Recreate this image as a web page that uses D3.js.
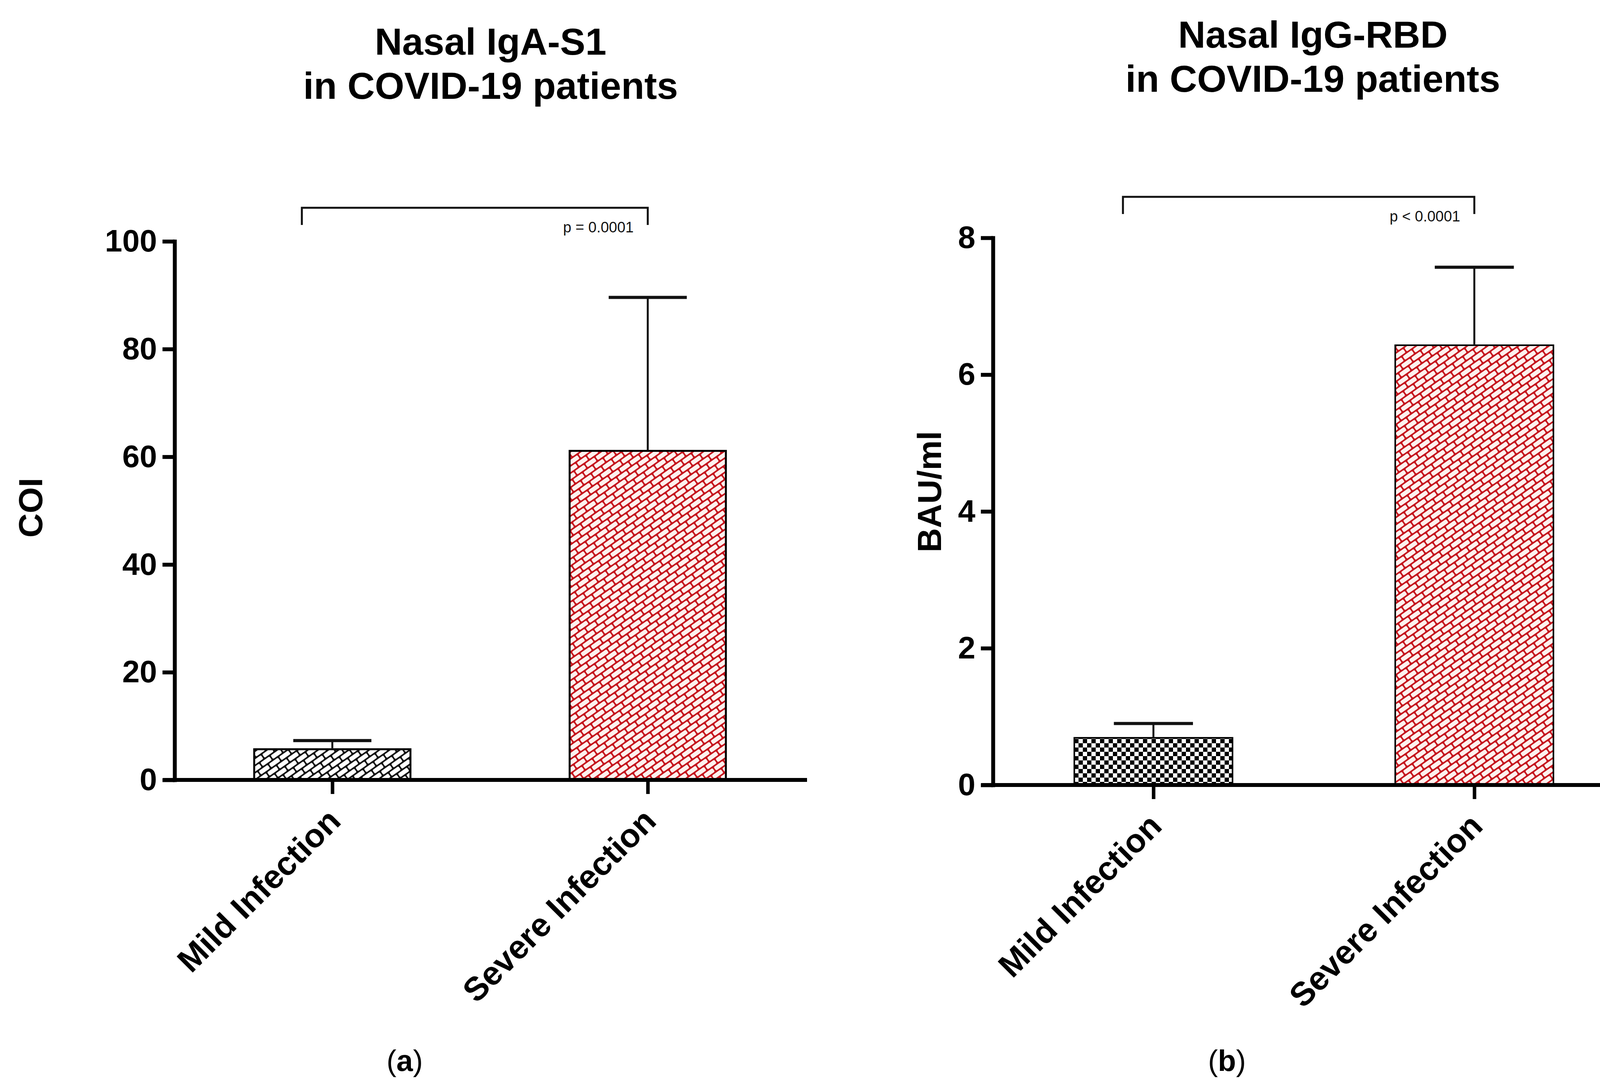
<!DOCTYPE html>
<html>
<head>
<meta charset="utf-8">
<script src="https://cdn.jsdelivr.net/npm/d3@7"></script>
<style>
  body { margin: 0; background: #fff; }
  text { font-family: "Liberation Sans", Arial, sans-serif; }
</style>
</head>
<body>
<div id="chart"></div>
<script>
// data
const categories = ["Mild Infection", "Severe Infection"];

const igaMean = [5.7, 61.1];
const igaErr = [1.6, 28.5];
const igaTicks = [0, 20, 40, 60, 80, 100];

const iggMean = [0.69, 6.43];
const iggErr = [0.21, 1.14];
const iggTicks = [0, 2, 4, 6, 8];

const titlesA = ["Nasal IgA-S1", "in COVID-19 patients"];
const titlesB = ["Nasal IgG-RBD", "in COVID-19 patients"];
const pTexts = ["p = 0.0001", "p < 0.0001"];

const W = 4218, H = 2773;

const svg = d3.select("#chart").append("svg")
    .attr("width", W)
    .attr("height", H)
    .attr("viewBox", `0 0 ${W} ${H}`);

svg.append("rect").attr("width", W).attr("height", H).attr("fill", "#fff");

// fill patterns
const defs = svg.append("defs");

function brick(id, mortar, face) {
  const p = defs.append("pattern")
      .attr("id", id)
      .attr("patternUnits", "userSpaceOnUse")
      .attr("width", 32).attr("height", 30)
      .attr("patternTransform", "rotate(-35)");
  p.append("rect").attr("width", 32).attr("height", 30).attr("fill", mortar);
  p.append("rect").attr("x", 2).attr("y", 2).attr("width", 28).attr("height", 11)
      .attr("rx", 3).attr("fill", face);
  p.append("rect").attr("x", -14).attr("y", 17).attr("width", 28).attr("height", 11)
      .attr("rx", 3).attr("fill", face);
  p.append("rect").attr("x", 18).attr("y", 17).attr("width", 28).attr("height", 11)
      .attr("rx", 3).attr("fill", face);
}
brick("brickBlack", "#111", "#fff");
brick("brickRed", "#c4141c", "#fdf1ee");

const chk = defs.append("pattern")
    .attr("id", "checker")
    .attr("patternUnits", "userSpaceOnUse")
    .attr("width", 22).attr("height", 22);
chk.append("rect").attr("width", 22).attr("height", 22).attr("fill", "#fff");
chk.append("rect").attr("width", 11).attr("height", 11).attr("fill", "#000");
chk.append("rect").attr("x", 11).attr("y", 11).attr("width", 11).attr("height", 11).attr("fill", "#000");

function panel(cfg) {
  const g = svg.append("g");

  const x = d3.scalePoint().domain(categories).range([cfg.left, cfg.right]).padding(0.5);
  const y = d3.scaleLinear().domain([0, cfg.max]).range([cfg.bottom, cfg.top]);

  // title
  cfg.title.forEach((t, i) => {
    g.append("text")
      .attr("x", cfg.titleX)
      .attr("y", cfg.titleY + i * 113)
      .attr("text-anchor", "middle")
      .attr("font-size", 97)
      .attr("font-weight", "bold")
      .attr("fill", "#000")
      .text(t);
  });

  // bars
  g.selectAll("rect.bar")
    .data(categories)
    .join("rect")
      .attr("class", "bar")
      .attr("x", d => x(d) - cfg.barW / 2)
      .attr("width", cfg.barW)
      .attr("y", (d, i) => y(cfg.mean[i]))
      .attr("height", (d, i) => y(0) - y(cfg.mean[i]))
      .attr("fill", (d, i) => `url(#${cfg.fills[i]})`)
      .attr("stroke", "#000")
      .attr("stroke-width", cfg.barStroke);

  // error bars (upper only)
  const eb = g.selectAll("g.err")
    .data(categories)
    .join("g").attr("class", "err");
  eb.append("line")
    .attr("x1", d => x(d)).attr("x2", d => x(d))
    .attr("y1", (d, i) => y(cfg.mean[i]))
    .attr("y2", (d, i) => y(cfg.mean[i] + cfg.err[i]))
    .attr("stroke", "#111").attr("stroke-width", 5);
  eb.append("line")
    .attr("x1", d => x(d) - cfg.barW / 4).attr("x2", d => x(d) + cfg.barW / 4)
    .attr("y1", (d, i) => y(cfg.mean[i] + cfg.err[i]))
    .attr("y2", (d, i) => y(cfg.mean[i] + cfg.err[i]))
    .attr("stroke", "#111").attr("stroke-width", 8);

  // y axis
  const ya = g.append("g")
      .attr("transform", `translate(${cfg.left},0)`)
      .call(d3.axisLeft(y).tickValues(cfg.ticks).tickSize(31).tickSizeOuter(0).tickPadding(14));
  ya.select(".domain").attr("stroke-width", 10).attr("stroke-linecap", "square");
  ya.selectAll(".tick line").attr("stroke-width", 10);
  ya.selectAll(".tick text")
    .attr("font-size", 80)
    .attr("font-weight", "bold")
    .attr("fill", "#000")
    .attr("font-family", "'Liberation Sans', Arial, sans-serif");

  // x axis
  const xa = g.append("g")
      .attr("transform", `translate(0,${cfg.bottom})`)
      .call(d3.axisBottom(x).tickSize(36).tickSizeOuter(0).tickFormat(""));
  xa.select(".domain").attr("stroke-width", 10)
    .attr("d", `M${cfg.left - 30},0H${cfg.axisEnd}`);
  xa.selectAll(".tick line").attr("stroke-width", 9);

  g.selectAll("text.xlab")
    .data(categories)
    .join("text")
      .attr("class", "xlab")
      .attr("transform", d => `translate(${x(d) + 26},${cfg.bottom + 110}) rotate(-45)`)
      .attr("text-anchor", "end")
      .attr("font-size", 85)
      .attr("font-weight", "bold")
      .attr("fill", "#000")
      .text(d => d);

  // y axis title
  g.append("text")
    .attr("transform", `translate(${cfg.yLabX},${cfg.yLabY}) rotate(-90)`)
    .attr("text-anchor", "middle")
    .attr("font-size", 86)
    .attr("font-weight", "bold")
    .attr("fill", "#000")
    .text(cfg.yLabel);

  // significance bracket
  const bx1 = x(categories[0]) - 78, bx2 = x(categories[1]);
  g.append("path")
    .attr("d", `M${bx1},${cfg.brY + 44}V${cfg.brY}H${bx2}V${cfg.brY + 44}`)
    .attr("fill", "none")
    .attr("stroke", "#111")
    .attr("stroke-width", 5);
  g.append("text")
    .attr("x", bx2 - 36)
    .attr("y", cfg.brY + 63)
    .attr("text-anchor", "end")
    .attr("font-size", 38)
    .attr("fill", "#111")
    .text(cfg.pText);

  // panel letter
  const lab = g.append("text")
    .attr("x", cfg.titleX - 220)
    .attr("y", 2742)
    .attr("text-anchor", "middle")
    .attr("font-size", 76)
    .attr("font-family", "'Liberation Serif', 'Times New Roman', serif")
    .attr("fill", "#000");
  lab.append("tspan").text("(");
  lab.append("tspan").attr("font-weight", "bold").text(cfg.letter);
  lab.append("tspan").text(")");
}

panel({
  title: titlesA, titleX: 1256, titleY: 140,
  mean: igaMean, err: igaErr, ticks: igaTicks, max: 100,
  left: 447, right: 2062, axisEnd: 2066, top: 618, bottom: 1997,
  barW: 400, barStroke: 5, fills: ["brickBlack", "brickRed"],
  yLabel: "COI", yLabX: 108, yLabY: 1300,
  brY: 532, pText: pTexts[0], letter: "a"
});

panel({
  title: titlesB, titleX: 3361, titleY: 122,
  mean: iggMean, err: iggErr, ticks: iggTicks, max: 8,
  left: 2542, right: 4185, axisEnd: 4185, top: 609, bottom: 2010,
  barW: 405, barStroke: 4, fills: ["checker", "brickRed"],
  yLabel: "BAU/ml", yLabX: 2409, yLabY: 1259,
  brY: 504, pText: pTexts[1], letter: "b"
});
</script>
</body>
</html>
